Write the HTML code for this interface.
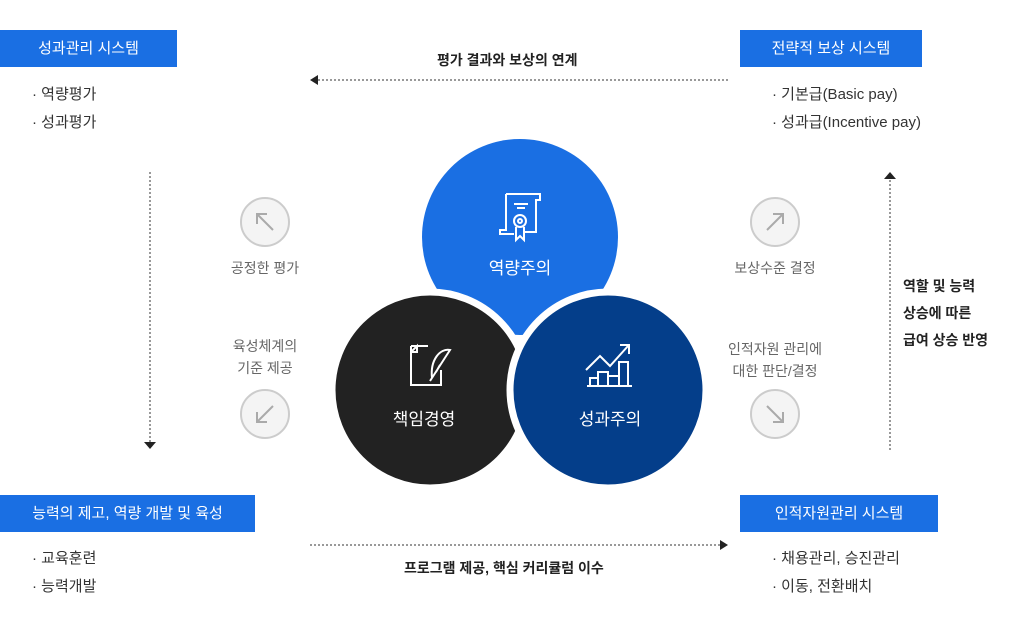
<!DOCTYPE html>
<html><head><meta charset="utf-8"><style>
body{margin:0;width:1030px;height:626px;background:#fff;position:relative;overflow:hidden;font-family:"Liberation Sans","Noto Sans CJK KR",sans-serif;color:#333}
.box{position:absolute;background:#1a6fe3;color:#fff;font-size:15px;height:37px;line-height:37px;text-align:center}
.t{position:absolute;font-size:15px;line-height:28px;color:#333;white-space:nowrap}
.g{position:absolute;font-size:14px;color:#666;text-align:center;line-height:22px;white-space:nowrap}
.b{position:absolute;font-size:14px;color:#222;font-weight:bold;white-space:nowrap}
</style></head><body>
<div class="box" style="left:0;top:30px;width:177px">성과관리 시스템</div>
<div class="box" style="left:740px;top:30px;width:182px">전략적 보상 시스템</div>
<div class="box" style="left:0;top:495px;width:255px">능력의 제고, 역량 개발 및 육성</div>
<div class="box" style="left:740px;top:495px;width:198px">인적자원관리 시스템</div>
<div class="t" style="left:32px;top:81px">· 역량평가<br>· 성과평가</div>
<div class="t" style="left:772px;top:81px">· 기본급(Basic pay)<br>· 성과급(Incentive pay)</div>
<div class="t" style="left:32px;top:545px">· 교육훈련<br>· 능력개발</div>
<div class="t" style="left:772px;top:545px">· 채용관리, 승진관리<br>· 이동, 전환배치</div>
<div class="b" style="left:437px;top:50px">평가 결과와 보상의 연계</div>
<div class="b" style="left:404px;top:558px">프로그램 제공, 핵심 커리큘럼 이수</div>
<div class="b" style="left:903px;top:273px;line-height:27px">역할 및 능력<br>상승에 따른<br>급여 상승 반영</div>
<div class="g" style="left:215px;top:257px;width:100px">공정한 평가</div>
<div class="g" style="left:215px;top:335px;width:100px">육성체계의<br>기준 제공</div>
<div class="g" style="left:725px;top:257px;width:100px">보상수준 결정</div>
<div class="g" style="left:705px;top:338px;width:140px">인적자원 관리에<br>대한 판단/결정</div>
<svg width="1030" height="626" style="position:absolute;left:0;top:0">
<g stroke="#333" stroke-width="1" stroke-dasharray="2,2" fill="none">
<line x1="318" y1="80" x2="728" y2="80"/>
<line x1="310" y1="545" x2="720" y2="545"/>
<line x1="150" y1="172" x2="150" y2="442"/>
<line x1="890" y1="180" x2="890" y2="450"/>
</g>
<g fill="#222">
<polygon points="310,80 318,75 318,85"/>
<polygon points="728,545 720,540 720,550"/>
<polygon points="150,449 144,442 156,442"/>
<polygon points="890,172 884,179 896,179"/>
</g>
<g fill="#f4f4f4" stroke="#ccc" stroke-width="2">
<circle cx="265" cy="222" r="24"/><circle cx="775" cy="222" r="24"/>
<circle cx="265" cy="414" r="24"/><circle cx="775" cy="414" r="24"/>
</g>
<g stroke="#aaa" stroke-width="2" fill="none">
<path d="M273 230 L257 214 M257 224 V214 H267"/>
<path d="M767 230 L783 214 M773 214 H783 V224"/>
<path d="M273 406 L257 422 M257 412 V422 H267"/>
<path d="M767 406 L783 422 M773 422 H783 V412"/>
</g>
<circle cx="520" cy="237" r="98" fill="#1a6fe3"/>
<circle cx="430" cy="390" r="98" fill="#222" stroke="#fff" stroke-width="7"/>
<circle cx="608" cy="390" r="98" fill="#043e8a" stroke="#fff" stroke-width="7"/>
<g stroke="#fff" stroke-width="2" fill="none">
<path d="M506 194 H540 V200 H536 V232 H525 M506 194 V230 H500 V234 H514"/>
<line x1="514" y1="204" x2="528" y2="204"/><line x1="517" y1="208" x2="525" y2="208"/>
<circle cx="520" cy="221" r="6"/><circle cx="520" cy="221" r="2"/>
<path d="M516 227 V240 L520 236 L524 240 V227"/>
<path d="M411 346 V385 H441 V370 M411 346 H428 M411 352 L417 346 V352 H411"/>
<path d="M430 381 L450 350 C440 348 430 360 432 378 M440 365 L436 372"/>
<path d="M586 370 L600 356 L610 366 L628 346 M620 345 H629 V354"/>
<path d="M587 386 H632 M590 386 V378 H598 V386 M598 386 V372 H608 V386 M608 386 V376 H619 V386 M619 386 V362 H628 V386"/>
</g>
<g fill="#fff" font-size="17" text-anchor="middle" font-family="Liberation Sans, Noto Sans CJK KR, sans-serif">
<text x="520" y="274">역량주의</text>
<text x="424" y="425">책임경영</text>
<text x="610" y="425">성과주의</text>
</g>
</svg>
</body></html>
